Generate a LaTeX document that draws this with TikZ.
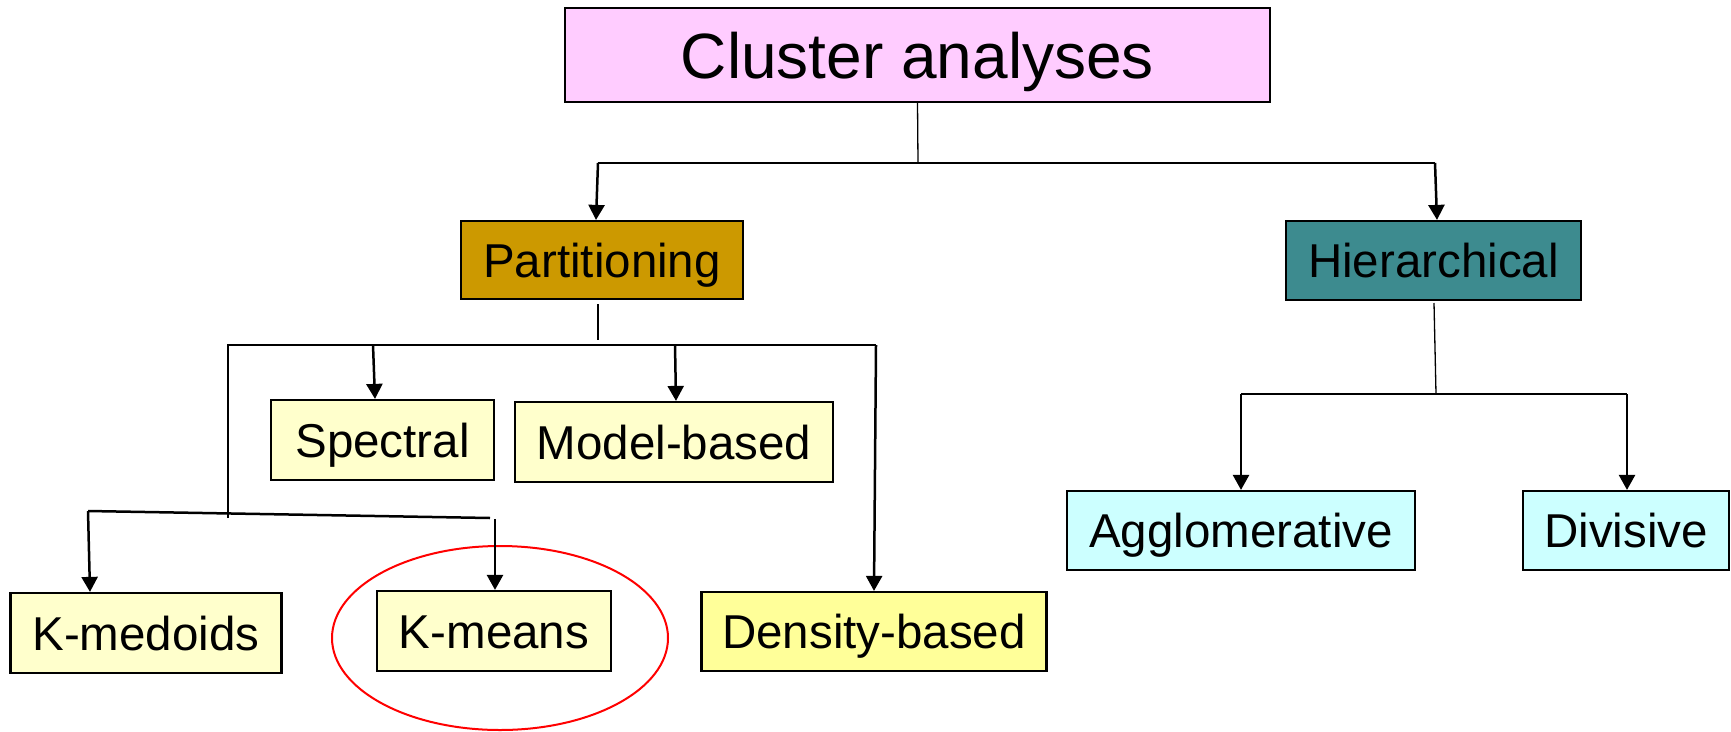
\documentclass[tikz,border=0pt]{standalone}
\usepackage{fontspec}
\setmainfont{Liberation Sans}
\usetikzlibrary{arrows.meta,shapes.geometric}
\definecolor{toppink}{HTML}{FFCCFF}
\definecolor{partgold}{HTML}{CC9900}
\definecolor{hierteal}{HTML}{3D8B8F}
\definecolor{paleyellow}{HTML}{FFFFCC}
\definecolor{denseyellow}{HTML}{FFFF99}
\definecolor{palecyan}{HTML}{CCFFFF}
\begin{document}
\begin{tikzpicture}[x=1pt,y=-1pt,
  box/.style={draw=black,line width=2.2pt,inner sep=0pt,align=center,
    text height=34pt,text depth=0pt,
    font=\fontsize{47.5}{57}\selectfont},
  link/.style={draw=black,line width=2.5pt},
  stem/.style={draw=black,line width=1.3pt},
  arrowlink/.style={link,-{Triangle[length=15pt,width=16pt]}}]
\useasboundingbox (0,0) rectangle (1731,731);

% boxes
\node (ca) [box,fill=toppink,minimum width=705pt,minimum height=94pt,
  text height=46pt,font=\fontsize{64}{76}\selectfont] at (917.5,55) {Cluster analyses};
\node (part) [box,fill=partgold,minimum width=282pt,minimum height=78pt] at (602,260) {Partitioning};
\node (hier) [box,fill=hierteal,minimum width=295pt,minimum height=79pt] at (1433.5,260.5) {Hierarchical};
\node (spec) [box,fill=paleyellow,minimum width=223pt,minimum height=80pt] at (382.5,440) {Spectral};
\node (model) [box,fill=paleyellow,minimum width=318pt,minimum height=80pt] at (674,442) {Model-based};
\node (kmed) [box,fill=paleyellow,minimum width=271pt,minimum height=80pt] at (146,633) {K-medoids};
\node (kmeans) [box,fill=paleyellow,minimum width=234pt,minimum height=80pt] at (494,631) {K-means};
\node (dens) [box,fill=denseyellow,minimum width=345pt,minimum height=79pt] at (874,631.5) {Density-based};
\node (agg) [box,fill=palecyan,minimum width=348pt,minimum height=79pt] at (1241,530.5) {Agglomerative};
\node (div) [box,fill=palecyan,minimum width=206pt,minimum height=79pt] at (1626,530.5) {Divisive};

% highlight ring round K-means
\node (ring) [ellipse,draw=red,line width=2pt,minimum width=336pt,minimum height=184pt] at (500,638) {};

% junction points
\coordinate (topmid) at (918,163);
\coordinate (topl) at (598,163);
\coordinate (topr) at (1435,163);
\coordinate (pstemtop) at (598,304);
\coordinate (pstembot) at (598,340);
\coordinate (pl) at (228,345);
\coordinate (pspec) at (373,345);
\coordinate (pmodel) at (675,345);
\coordinate (pr) at (876,345);
\coordinate (plbot) at (228,518);
\coordinate (ll) at (88,511);
\coordinate (lr) at (490,518);
\coordinate (kmtop) at (495,519);
\coordinate (hstemtop) at (1434,303);
\coordinate (hmid) at (1436,394);
\coordinate (hl) at (1241,394);
\coordinate (hr) at (1627,394);

% top level
\draw[stem] (ca.south) -- (topmid);
\draw[link] (topl) -- (topr);
\draw[arrowlink] (topl) -- ([xshift=-6pt]part.north);
\draw[arrowlink] (topr) -- ([xshift=3.5pt]hier.north);

% partitioning branch
\draw[stem] (pstemtop) -- (pstembot);
\draw[link] (plbot) -- (pl) -- (pr);
\draw[arrowlink] (pspec) -- ([xshift=-7.5pt]spec.north);
\draw[arrowlink] (pmodel) -- ([xshift=2pt]model.north);
\draw[arrowlink] (pr) -- (dens.north);
\draw[link] (ll) -- (lr);
\draw[arrowlink] (ll) -- ([xshift=-56pt]kmed.north);
\draw[arrowlink] (kmtop) -- ([xshift=1pt]kmeans.north);

% hierarchical branch
\draw[stem] (hstemtop) -- (hmid);
\draw[link] (hl) -- (hr);
\draw[arrowlink] (hl) -- (agg.north);
\draw[arrowlink] (hr) -- ([xshift=1pt]div.north);
\end{tikzpicture}
\end{document}
